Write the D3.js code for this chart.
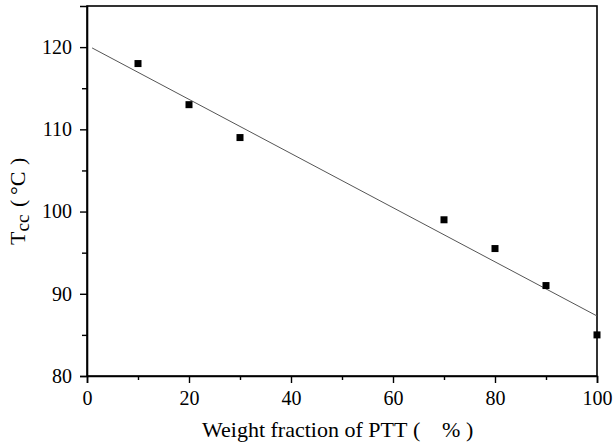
<!DOCTYPE html>
<html><head><meta charset="utf-8">
<script src="https://cdn.jsdelivr.net/npm/d3@7"></script>
<style>body{margin:0;background:#fff}svg{display:block}</style>
</head><body>
<script>
const weightFraction = [10, 20, 30, 70, 80, 90, 100];
const tcc = [118, 113, 109, 99, 95.5, 91, 85];
const fitX = [1, 100];
const fitY = [119.9, 87.3];
const xTicks = [0, 20, 40, 60, 80, 100];
const yTicks = [80, 90, 100, 110, 120];

const FONT = "'Liberation Serif', 'Times New Roman', Times, 'DejaVu Serif', serif";
const W = 614, H = 442;
const m = {left: 87, right: 17, top: 6, bottom: 66};
const svg = d3.select("body").append("svg").attr("width", W).attr("height", H);
const x = d3.scaleLinear().domain([0, 100]).range([m.left, W - m.right]);
const y = d3.scaleLinear().domain([80, 125]).range([H - m.bottom, m.top]);

// frame
svg.append("rect").attr("x", x(0)).attr("y", y(125)).attr("width", x(100) - x(0)).attr("height", y(80) - y(125))
  .attr("fill", "none").attr("stroke", "#000").attr("stroke-width", 1.6);

// x axis
svg.append("g").attr("transform", `translate(0,${y(80)})`)
  .call(d3.axisBottom(x).tickValues(xTicks).tickSize(7).tickPadding(8).tickFormat(d3.format("d")));
svg.append("g").attr("transform", `translate(0,${y(80)})`)
  .call(d3.axisBottom(x).tickValues(d3.range(10, 100, 20)).tickSize(4).tickFormat(""))
  .call(g => g.select(".domain").remove());
// y axis
svg.append("g").attr("transform", `translate(${x(0)},0)`)
  .call(d3.axisLeft(y).tickValues(yTicks).tickSize(7).tickPadding(8).tickFormat(d3.format("d")));
svg.append("g").attr("transform", `translate(${x(0)},0)`)
  .call(d3.axisLeft(y).tickValues([85, 95, 105, 115]).tickSize(5).tickFormat(""))
  .call(g => g.select(".domain").remove());
svg.selectAll("g").attr("font-family", null);
svg.selectAll(".tick line").attr("stroke", "#000").attr("stroke-width", 1.4);
svg.selectAll(".domain").attr("stroke", "#000").attr("stroke-width", 1.6);
svg.selectAll(".tick text").style("font-size", "20px").style("font-family", FONT).attr("fill", "#000");

// fit line
svg.append("line").attr("x1", x(fitX[0])).attr("y1", y(fitY[0])).attr("x2", x(fitX[1])).attr("y2", y(fitY[1]))
  .attr("stroke", "#555").attr("stroke-width", 1);

// points
svg.append("g").selectAll("rect").data(weightFraction).join("rect")
  .attr("x", (d) => x(d) - 3.5).attr("y", (d, i) => y(tcc[i]) - 3.5)
  .attr("width", 7).attr("height", 7).attr("fill", "#000");

// axis titles
const xl = svg.append("text").attr("y", 437)
  .style("font-family", FONT).style("font-size", "22px").attr("fill", "#000");
xl.append("tspan").attr("x", 202).text("Weight fraction of PTT");
xl.append("tspan").attr("x", 413).text("(");
xl.append("tspan").attr("x", 442).text("%");
xl.append("tspan").attr("x", 466).text(")");

const yl = svg.append("text").attr("transform", "rotate(-90)").attr("y", 25)
  .style("font-family", FONT).style("font-size", "22px").attr("fill", "#000");
yl.append("tspan").attr("x", -245).text("T");
yl.append("tspan").attr("dy", 4).style("font-size", "19px").text("cc");
yl.append("tspan").attr("x", -207).attr("dy", -4).text("(");
yl.append("tspan").attr("x", -195).text("°C");
yl.append("tspan").attr("x", -165).text(")");
</script>
</body></html>
